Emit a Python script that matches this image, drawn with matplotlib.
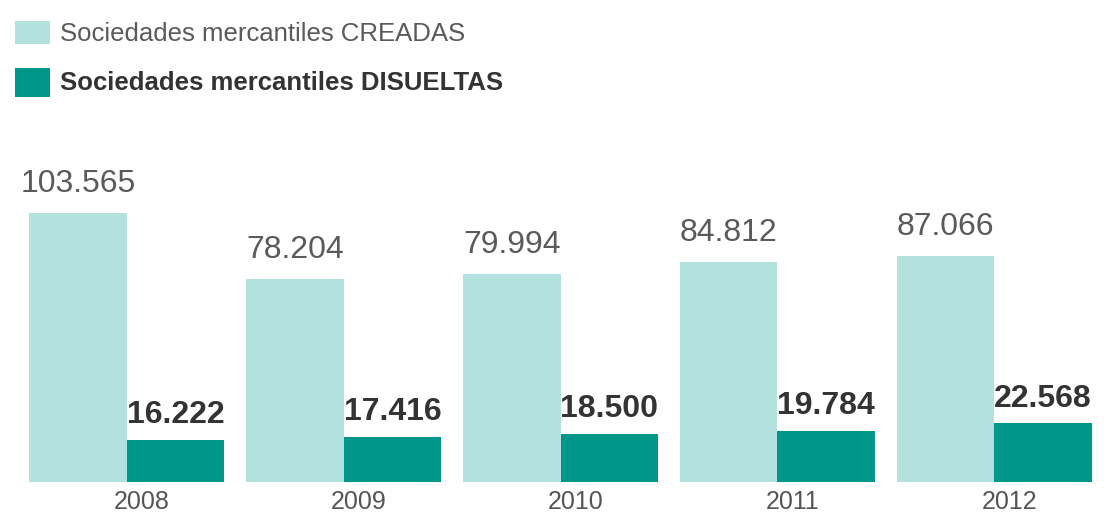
import numpy as np
import matplotlib
matplotlib.use("Agg")
import matplotlib.pyplot as plt
from matplotlib.patches import Rectangle

plt.rcParams['font.family'] = ['Liberation Sans', 'DejaVu Sans']

years = ['2008', '2009', '2010', '2011', '2012']
creadas = [103565, 78204, 79994, 84812, 87066]
disueltas = [16222, 17416, 18500, 19784, 22568]
label_creadas = 'Sociedades mercantiles CREADAS'
label_disueltas = 'Sociedades mercantiles DISUELTAS'

light = '#b3e1de'
dark = '#00978b'

def fmt(v):
    # thousands separated with a dot
    return '{:,}'.format(v).replace(',', '.')

fig = plt.figure(figsize=(11.06, 5.18), dpi=100)
ax = fig.add_axes([29 / 1106, 36 / 518, 1063 / 1106, 382 / 518])

x = np.arange(len(years))
w = 0.45
ax.bar(x, creadas, width=w, align='edge', color=light, linewidth=0)
ax.bar(x + w, disueltas, width=w, align='edge', color=dark, linewidth=0)

for xi, v in zip(x, creadas):
    ax.annotate(fmt(v), (xi + w / 2, v), xytext=(0, 15), textcoords='offset points',
                ha='center', va='baseline', fontsize=23, color='#5a5a5a')
for xi, v in zip(x, disueltas):
    ax.annotate(fmt(v), (xi + 1.5 * w, v), xytext=(0, 12), textcoords='offset points',
                ha='center', va='baseline', fontsize=23, fontweight='bold', color='#333333')

ax.set_xlim(0, 4.9)
ax.set_ylim(0, 147000)
ax.set_xticks(x + w + 0.07)
ax.set_xticklabels(years, fontsize=18, color='#555555')
ax.tick_params(axis='x', length=0, pad=6)
ax.set_yticks([])
for s in ax.spines.values():
    s.set_visible(False)

# legend drawn by hand in figure pixels
H = 518
fig.patches.append(Rectangle((15 / 1106, (H - 44) / H), 35 / 1106, 23 / H,
                             transform=fig.transFigure, color=light, linewidth=0))
fig.patches.append(Rectangle((15 / 1106, (H - 97) / H), 35 / 1106, 29 / H,
                             transform=fig.transFigure, color=dark, linewidth=0))
fig.text(60 / 1106, (H - 34) / H, label_creadas, fontsize=18.5, color='#5a5a5a', va='center')
fig.text(60 / 1106, (H - 83) / H, label_disueltas, fontsize=18.5, fontweight='bold',
         color='#333333', va='center')

fig.savefig('out.png', dpi=100, facecolor='white')
